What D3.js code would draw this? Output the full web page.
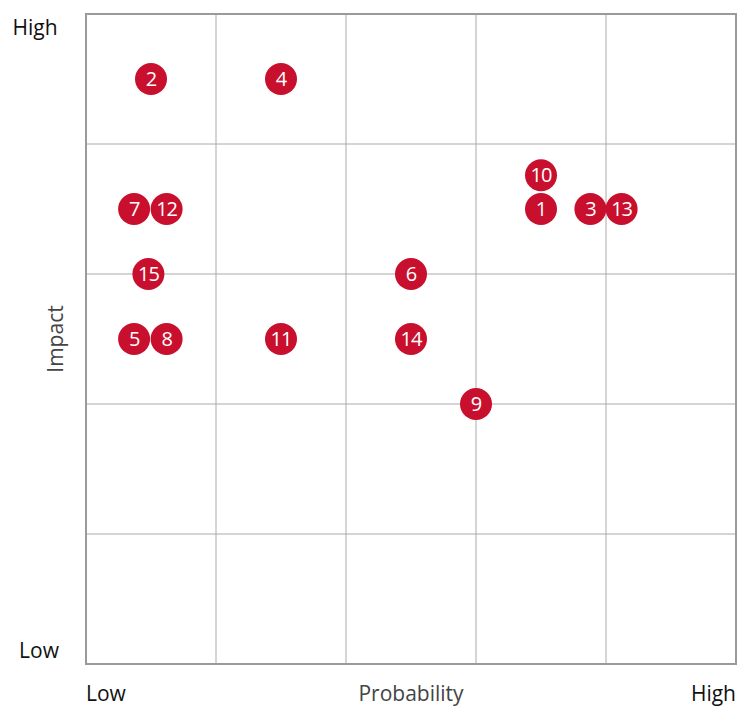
<!DOCTYPE html>
<html>
<head>
<meta charset="utf-8">
<script src="https://cdn.jsdelivr.net/npm/d3@7"></script>
<style>
  body { margin: 0; background: #fff; }
</style>
</head>
<body>
<script>
// risk ids, probability (0-5) and impact (0-5)
var riskIds = [1, 2, 3, 4, 5, 6, 7, 8, 9, 10, 11, 12, 13, 14, 15];
var probability = [3.5, 0.5, 3.88, 1.5, 0.37, 2.5, 0.37, 0.62, 3.0, 3.5, 1.5, 0.62, 4.12, 2.5, 0.48];
var impact = [3.5, 4.5, 3.5, 4.5, 2.5, 3.0, 3.5, 2.5, 2.0, 3.76, 2.5, 3.5, 3.5, 2.5, 3.0];
var gridTicks = [0, 1, 2, 3, 4, 5];

var w = 737;
var h = 707;
var plotLeft = 86, plotRight = 736, plotTop = 14, plotBottom = 664;

var svg = d3.select("body")
    .append("svg")
    .attr("width", w)
    .attr("height", h)
    .style("font-family", "'Open Sans', sans-serif");

var xScale = d3.scaleLinear().domain([0, 5]).range([plotLeft, plotRight]);
var yScale = d3.scaleLinear().domain([0, 5]).range([plotBottom, plotTop]);

// inner grid
svg.selectAll("line.vgrid")
    .data(gridTicks.slice(1, -1))
    .enter()
    .append("line")
    .attr("class", "vgrid")
    .attr("x1", function (d) { return xScale(d); })
    .attr("x2", function (d) { return xScale(d); })
    .attr("y1", plotTop)
    .attr("y2", plotBottom)
    .attr("stroke", "#aaaaaa")
    .attr("stroke-width", 1);

svg.selectAll("line.hgrid")
    .data(gridTicks.slice(1, -1))
    .enter()
    .append("line")
    .attr("class", "hgrid")
    .attr("y1", function (d) { return yScale(d); })
    .attr("y2", function (d) { return yScale(d); })
    .attr("x1", plotLeft)
    .attr("x2", plotRight)
    .attr("stroke", "#aaaaaa")
    .attr("stroke-width", 1);

// frame
svg.append("rect")
    .attr("x", plotLeft)
    .attr("y", plotTop)
    .attr("width", plotRight - plotLeft)
    .attr("height", plotBottom - plotTop)
    .attr("fill", "none")
    .attr("stroke", "#9a9a9a")
    .attr("stroke-width", 2);

var risks = riskIds.map(function (id, i) {
    return { id: id, p: probability[i], im: impact[i] };
});

var dots = svg.selectAll("g.risk")
    .data(risks)
    .enter()
    .append("g")
    .attr("class", "risk")
    .attr("transform", function (d) {
        return "translate(" + xScale(d.p) + "," + yScale(d.im) + ")";
    });

dots.append("circle")
    .attr("r", 16)
    .attr("fill", "#c8102e");

dots.append("text")
    .attr("text-anchor", "middle")
    .attr("dy", "0.36em")
    .attr("fill", "#fff")
    .attr("font-size", 20)
    .attr("letter-spacing", -1)
    .text(function (d) { return d.id; });

// corner labels
svg.append("text")
    .attr("x", 35).attr("y", 35)
    .attr("text-anchor", "middle")
    .attr("font-size", 21)
    .attr("fill", "#111")
    .text("High");

svg.append("text")
    .attr("x", 39).attr("y", 658)
    .attr("text-anchor", "middle")
    .attr("font-size", 21)
    .attr("fill", "#111")
    .text("Low");

svg.append("text")
    .attr("x", 86).attr("y", 701)
    .attr("text-anchor", "start")
    .attr("font-size", 21)
    .attr("fill", "#111")
    .text("Low");

svg.append("text")
    .attr("x", 736).attr("y", 701)
    .attr("text-anchor", "end")
    .attr("font-size", 21)
    .attr("fill", "#111")
    .text("High");

// axis titles
svg.append("text")
    .attr("x", 411).attr("y", 701)
    .attr("text-anchor", "middle")
    .attr("font-size", 21)
    .attr("fill", "#444")
    .text("Probability");

svg.append("text")
    .attr("transform", "translate(63, 339) rotate(-90)")
    .attr("text-anchor", "middle")
    .attr("font-size", 21)
    .attr("fill", "#444")
    .text("Impact");
</script>
</body>
</html>
